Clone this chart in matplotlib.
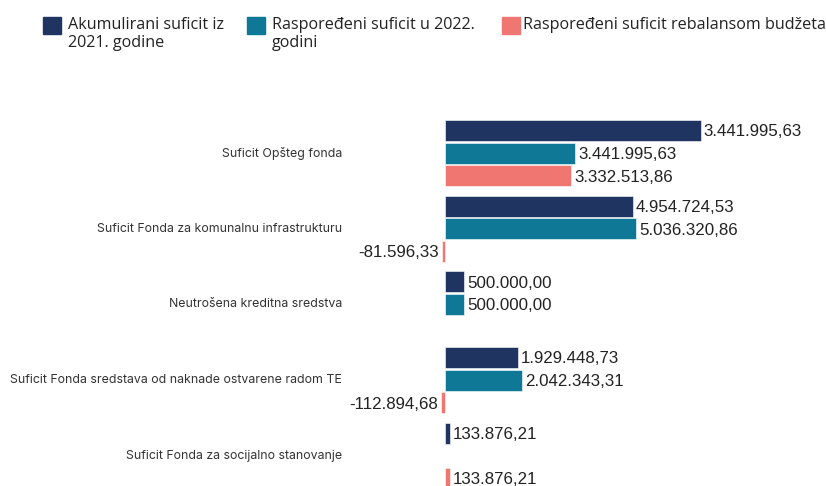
import numpy as np
import matplotlib
matplotlib.use("Agg")
import matplotlib.pyplot as plt
from matplotlib.patches import Rectangle

# podaci
categories = [
    "Suficit Opšteg fonda",
    "Suficit Fonda za komunalnu infrastrukturu",
    "Neutrošena kreditna sredstva",
    "Suficit Fonda sredstava od naknade ostvarene radom TE",
    "Suficit Fonda za socijalno stanovanje",
]
series_names = [
    "Akumulirani suficit iz\n2021. godine",
    "Raspoređeni suficit u 2022.\ngodini",
    "Raspoređeni suficit rebalansom budžeta",
]
# duzine stubaca kako su nacrtane na slici
akumulirani = [6750000, 4954724.53, 500000.00, 1929448.73, 133876.21]
rasporedjeni = [3441995.63, 5036320.86, 500000.00, 2042343.31, None]
rebalans = [3332513.86, -81596.33, None, -112894.68, 133876.21]
# natpisi vrijednosti
akumulirani_lbl = ["3.441.995,63", "4.954.724,53", "500.000,00", "1.929.448,73", "133.876,21"]
rasporedjeni_lbl = ["3.441.995,63", "5.036.320,86", "500.000,00", "2.042.343,31", None]
rebalans_lbl = ["3.332.513,86", "-81.596,33", None, "-112.894,68", "133.876,21"]

colors = ["#1f3461", "#0f7896", "#f07672"]

fig = plt.figure(figsize=(8.26, 4.86), dpi=100)
ax = fig.add_axes([0.0, 0.0, 1.0, (486 - 110) / 486])

zero_px = 445
ax.set_xlim(-zero_px / 37.9 * 1e6, (826 - zero_px) / 37.9 * 1e6)
ax.set_ylim(4.4, -0.57)

offsets = [-0.3, 0.0, 0.3]
bar_h = 0.277
all_vals = [akumulirani, rasporedjeni, rebalans]
all_lbls = [akumulirani_lbl, rasporedjeni_lbl, rebalans_lbl]
xpad = 3 / 37.9 * 1e6

for s, (vals, lbls) in enumerate(zip(all_vals, all_lbls)):
    for i, (v, lb) in enumerate(zip(vals, lbls)):
        if v is None:
            continue
        y = i + offsets[s]
        ax.barh(y, v, height=bar_h, color=colors[s], edgecolor="white", linewidth=0.4)
        if v >= 0:
            ax.text(v + xpad, y + 0.02, lb, va="center", ha="left", fontsize=12.2,
                    family="Liberation Sans", color="#222222")
        else:
            ax.text(v - xpad, y + 0.02, lb, va="center", ha="right", fontsize=12.2,
                    family="Liberation Sans", color="#222222")

# nazivi kategorija
for i, c in enumerate(categories):
    ax.text(-2.72e6, i, c, va="center", ha="right", fontsize=8.9,
            family="Inter", color="#333333")

ax.axis("off")

# legenda
leg_x = [43, 247, 502]
txt_x = [68, 272, 523]
for s in range(3):
    fig.patches.append(Rectangle((leg_x[s] / 826, 1 - 34 / 486), 18 / 826, 17 / 486,
                                 transform=fig.transFigure, color=colors[s]))
    fig.text(txt_x[s] / 826, 1 - 17 / 486, series_names[s], ha="left", va="top",
             fontsize=11.6, family="Open Sans", color="#222222", linespacing=1.17)

fig.savefig("out.png", dpi=100)
